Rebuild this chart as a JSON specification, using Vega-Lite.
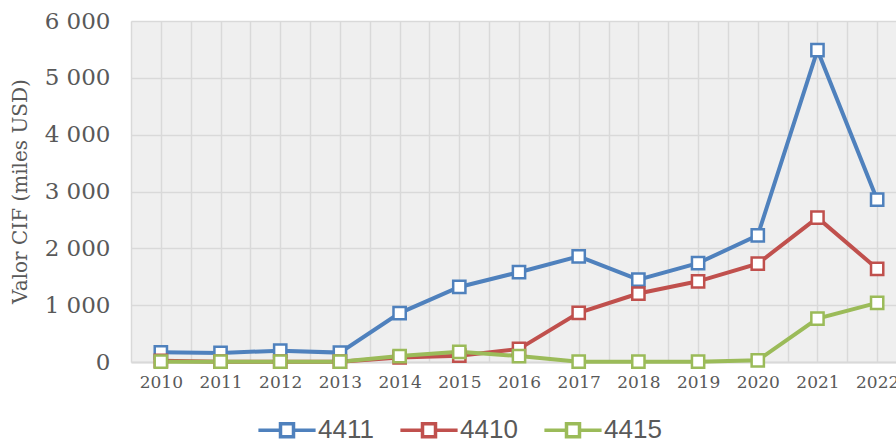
{
  "$schema": "https://vega.github.io/schema/vega-lite/v6.json",
  "autosize": "none",
  "padding": {"left": 131, "top": 21, "right": 0, "bottom": 81},
  "width": 776,
  "height": 341,
  "background": "white",
  "config": {
    "view": {"fill": "#efefef", "stroke": null},
    "font": "DejaVu Serif",
    "axis": {"labelColor": "#595959", "titleColor": "#595959", "gridColor": "#d9d9d9", "gridWidth": 1.5, "ticks": false, "domain": false}
  },
  "data": {
    "values": [
      {"year": 2010, "series": "4411", "value": 170},
      {"year": 2011, "series": "4411", "value": 160},
      {"year": 2012, "series": "4411", "value": 200},
      {"year": 2013, "series": "4411", "value": 165},
      {"year": 2014, "series": "4411", "value": 860},
      {"year": 2015, "series": "4411", "value": 1320},
      {"year": 2016, "series": "4411", "value": 1580},
      {"year": 2017, "series": "4411", "value": 1860},
      {"year": 2018, "series": "4411", "value": 1450},
      {"year": 2019, "series": "4411", "value": 1740},
      {"year": 2020, "series": "4411", "value": 2228},
      {"year": 2021, "series": "4411", "value": 5486},
      {"year": 2022, "series": "4411", "value": 2855},
      {"year": 2010, "series": "4410", "value": 20},
      {"year": 2011, "series": "4410", "value": 5},
      {"year": 2012, "series": "4410", "value": 5},
      {"year": 2013, "series": "4410", "value": 5},
      {"year": 2014, "series": "4410", "value": 80},
      {"year": 2015, "series": "4410", "value": 110},
      {"year": 2016, "series": "4410", "value": 230},
      {"year": 2017, "series": "4410", "value": 865},
      {"year": 2018, "series": "4410", "value": 1205},
      {"year": 2019, "series": "4410", "value": 1420},
      {"year": 2020, "series": "4410", "value": 1730},
      {"year": 2021, "series": "4410", "value": 2540},
      {"year": 2022, "series": "4410", "value": 1640},
      {"year": 2010, "series": "4415", "value": 5},
      {"year": 2011, "series": "4415", "value": 5},
      {"year": 2012, "series": "4415", "value": 5},
      {"year": 2013, "series": "4415", "value": 5},
      {"year": 2014, "series": "4415", "value": 105},
      {"year": 2015, "series": "4415", "value": 180},
      {"year": 2016, "series": "4415", "value": 105},
      {"year": 2017, "series": "4415", "value": 5},
      {"year": 2018, "series": "4415", "value": 5},
      {"year": 2019, "series": "4415", "value": 5},
      {"year": 2020, "series": "4415", "value": 30},
      {"year": 2021, "series": "4415", "value": 765},
      {"year": 2022, "series": "4415", "value": 1040}
    ]
  },
  "encoding": {
    "x": {
      "field": "year", "type": "quantitative",
      "scale": {"domain": [2009.5, 2022.5], "nice": false, "zero": false},
      "axis": {
        "title": null,
        "values": [2009.5, 2010, 2010.5, 2011, 2011.5, 2012, 2012.5, 2013, 2013.5, 2014, 2014.5, 2015, 2015.5, 2016, 2016.5, 2017, 2017.5, 2018, 2018.5, 2019, 2019.5, 2020, 2020.5, 2021, 2021.5, 2022, 2022.5],
        "labelExpr": "datum.value % 1 === 0 ? format(datum.value, 'd') : ''",
        "labelFontSize": 17,
        "labelPadding": 12,
        "labelFlush": false,
        "labelOverlap": false,
        "domain": true,
        "domainColor": "#d9d9d9",
        "domainWidth": 2,
        "grid": true
      }
    },
    "y": {
      "field": "value", "type": "quantitative",
      "scale": {"domain": [0, 6000], "nice": false},
      "axis": {
        "title": "Valor CIF (miles USD)",
        "values": [0, 1000, 2000, 3000, 4000, 5000, 6000],
        "labelExpr": "replace(format(datum.value, ','), ',', ' ')",
        "labelFontSize": 23,
        "labelPadding": 21,
        "titleFontSize": 20,
        "titleFontWeight": "normal",
        "titleX": -111,
        "titleY": 170,
        "titleAngle": -90,
        "titleAlign": "center",
        "titleBaseline": "middle",
        "grid": true
      }
    },
    "color": {
      "field": "series", "type": "nominal",
      "sort": ["4411", "4410", "4415"],
      "scale": {"domain": ["4411", "4410", "4415"], "range": ["#4f81bd", "#c0504d", "#9bbb59"]},
      "legend": {
        "title": null,
        "orient": "none",
        "legendX": 143,
        "legendY": 396,
        "direction": "horizontal",
        "symbolType": "M-4.4,0H-1M1,0H4.4M-1,-1H1V1H-1Z",
        "symbolSize": 169,
        "symbolStrokeWidth": 3.5,
        "symbolFillColor": "white",
        "symbolOffset": 0,
        "labelFont": "Liberation Sans",
        "labelFontSize": 26,
        "labelColor": "#595959",
        "labelOffset": 18,
        "columnPadding": 19
      }
    }
  },
  "layer": [
    {"mark": {"type": "line", "strokeWidth": 4}, "encoding": {"detail": {"field": "series"}}},
    {"mark": {"type": "point", "shape": "square", "filled": false, "fill": "white", "fillOpacity": 1, "opacity": 1, "size": 150, "strokeWidth": 2.5}}
  ]
}
